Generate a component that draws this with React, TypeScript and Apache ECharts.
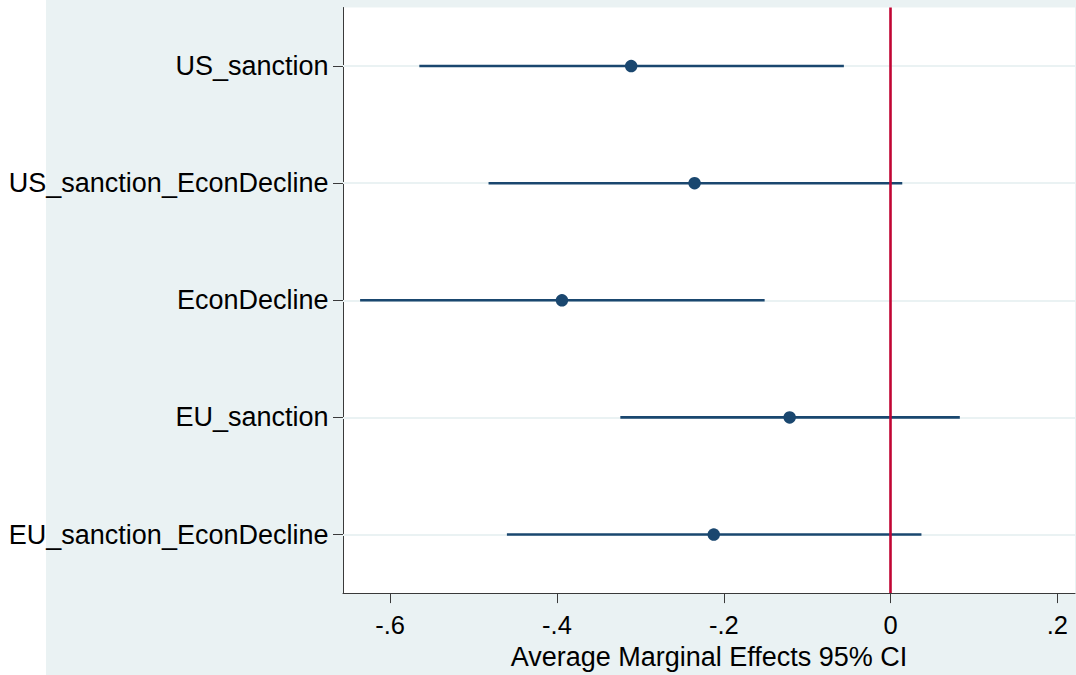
import React, { useEffect, useRef } from "react";
import * as echarts from "echarts";

const categories = [
  "US_sanction",
  "US_sanction_EconDecline",
  "EconDecline",
  "EU_sanction",
  "EU_sanction_EconDecline",
];
const estimates = [-0.311, -0.235, -0.394, -0.121, -0.212];
const ciLower = [-0.565, -0.482, -0.636, -0.324, -0.46];
const ciUpper = [-0.056, 0.014, -0.151, 0.083, 0.037];
const xTicks = [-0.6, -0.4, -0.2, 0, 0.2];
const xTitle = "Average Marginal Effects 95% CI";

const NAVY = "#1A476F";
const RED = "#C10534";
const BG = "#EAF2F3";
const AXIS = "#3a3a3a";
const FONT = "'Liberation Sans', Arial, sans-serif";

const fmtTick = (v: number) => {
  if (Math.abs(v) < 1e-9) return "0";
  return v.toFixed(1).replace("0.", ".");
};

export default function App() {
  const ref = useRef<HTMLDivElement>(null);
  useEffect(() => {
    if (!ref.current) return;
    const chart = echarts.init(ref.current, undefined, { renderer: "svg" });
    const yPos = categories.map((_, i) => i + 1);
    chart.setOption({
      animation: false,
      backgroundColor: "#ffffff",
      graphic: [
        {
          type: "rect",
          z: -100,
          zlevel: 0,
          shape: { x: 46, y: 0, width: 1030, height: 675 },
          style: { fill: BG },
          silent: true,
        },
      ],
      grid: {
        left: 343,
        top: 7.5,
        right: 1,
        bottom: 74.5,
        show: true,
        backgroundColor: "#ffffff",
        borderWidth: 0,
        containLabel: false,
      },
      xAxis: {
        type: "value",
        min: -0.6565,
        max: 0.2211,
        name: xTitle,
        nameLocation: "middle",
        nameGap: 41,
        nameTextStyle: { fontFamily: FONT, fontSize: 27, color: "#000" },
        axisLine: { show: true, onZero: false, lineStyle: { color: AXIS, width: 1 } },
        axisTick: {
          show: true,
          inside: false,
          length: 10,
          customValues: xTicks,
          lineStyle: { color: AXIS, width: 1 },
        },
        axisLabel: {
          show: true,
          customValues: xTicks,
          margin: 19,
          fontFamily: FONT,
          fontSize: 25.5,
          color: "#000",
          formatter: (v: number) => fmtTick(v),
        },
        splitLine: { show: false },
      },
      yAxis: {
        type: "value",
        min: 0.5,
        max: 5.5,
        inverse: true,
        axisLine: { show: true, onZero: false, lineStyle: { color: AXIS, width: 1 } },
        axisTick: {
          show: true,
          inside: false,
          length: 10,
          customValues: yPos,
          lineStyle: { color: AXIS, width: 1 },
        },
        axisLabel: {
          show: true,
          customValues: yPos,
          margin: 14.5,
          fontFamily: FONT,
          fontSize: 27,
          color: "#000",
          formatter: (v: number) => categories[Math.round(v) - 1] ?? "",
        },
        splitLine: { show: false },
      },
      series: [
        {
          type: "line",
          data: [],
          z: 1,
          silent: true,
          markLine: {
            silent: true,
            z: 1,
            symbol: ["none", "none"],
            label: { show: false },
            lineStyle: { color: BG, width: 2, type: "solid" },
            data: yPos.map((y) => ({ yAxis: y })),
          },
        },
        {
          type: "custom",
          z: 6,
          silent: true,
          data: ciLower.map((lo, i) => [lo, ciUpper[i], i + 1]),
          encode: { x: [0, 1], y: 2 },
          renderItem: (_params: any, api: any) => {
            const y = api.value(2);
            const p1 = api.coord([api.value(0), y]);
            const p2 = api.coord([api.value(1), y]);
            return {
              type: "line",
              shape: { x1: p1[0], y1: p1[1], x2: p2[0], y2: p2[1] },
              style: { stroke: NAVY, lineWidth: 2.6 },
            };
          },
        },
        {
          type: "scatter",
          z: 8,
          symbol: "circle",
          symbolSize: 12.5,
          itemStyle: { color: NAVY, opacity: 1 },
          data: estimates.map((e, i) => [e, i + 1]),
          markLine: {
            silent: true,
            z: 10,
            symbol: ["none", "none"],
            label: { show: false },
            lineStyle: { color: RED, width: 2.6, type: "solid" },
            data: [{ xAxis: 0 }],
          },
        },
      ],
    });
    return () => chart.dispose();
  }, []);
  return (
    <div
      ref={ref}
      style={{ position: "fixed", left: 0, top: 0, width: 1076, height: 675 }}
    />
  );
}
